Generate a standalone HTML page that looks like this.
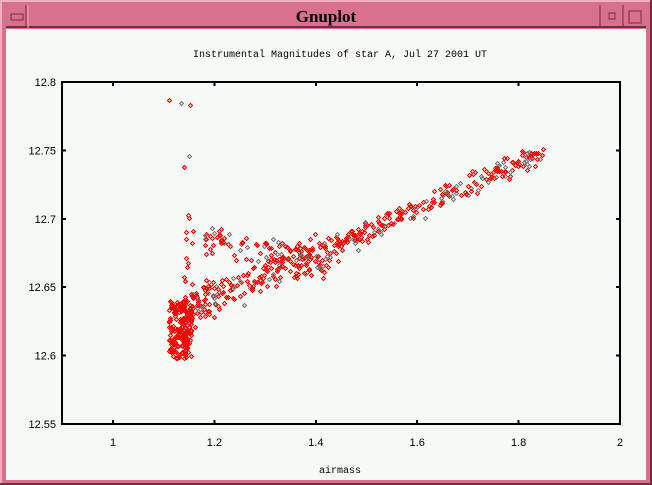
<!DOCTYPE html>
<html><head><style>
html,body{margin:0;padding:0;width:652px;height:485px;overflow:hidden;background:#d87090;}
#win{position:absolute;left:0;top:0;width:652px;height:485px;}
</style></head><body>
<svg id="win" width="652" height="485" xmlns="http://www.w3.org/2000/svg" shape-rendering="crispEdges">
<rect x="0" y="0" width="652" height="485" fill="#d8708e"/>
<rect x="0" y="0" width="652" height="2" fill="#f0b0c0"/>
<rect x="0" y="0" width="2" height="485" fill="#f0b0c0"/>
<rect x="650" y="0" width="2" height="485" fill="#703040"/>
<rect x="0" y="483" width="652" height="2" fill="#703040"/>
<rect x="6" y="6" width="640" height="22" fill="#d8708e"/>
<rect x="6" y="26" width="640" height="2" fill="#703040"/>
<line x1="28" y1="5" x2="28" y2="28" stroke="#f0b0c0" stroke-width="1"/>
<line x1="26" y1="5" x2="26" y2="28" stroke="#703040" stroke-width="1"/>
<rect x="11" y="14" width="12" height="6" fill="none" stroke="#703040"/>
<line x1="600" y1="5" x2="600" y2="28" stroke="#703040"/>
<line x1="623" y1="5" x2="623" y2="28" stroke="#703040"/>
<rect x="609" y="13" width="6" height="6" fill="none" stroke="#703040"/>
<rect x="629" y="11" width="12" height="12" fill="none" stroke="#703040"/>
<text x="326" y="22" text-anchor="middle" font-family="Liberation Serif, serif" font-weight="bold" font-size="17" fill="#000">Gnuplot</text>
<rect x="6" y="29" width="640" height="451" fill="#f5faf6"/>
<text x="340" y="57" text-anchor="middle" font-family="Liberation Mono, monospace" font-size="10" fill="#000">Instrumental Magnitudes of star A, Jul 27 2001 UT</text>
<g id="pts"></g>
<g stroke="#000" stroke-width="2" fill="none">
<rect x="62" y="82" width="558" height="342"/>
</g>
<g stroke="#000" stroke-width="2" id="ticks"></g>
<g font-family="Liberation Sans, sans-serif" font-size="11" fill="#000" id="labels"></g>
<text x="340" y="473" text-anchor="middle" font-family="Liberation Mono, monospace" font-size="10">airmass</text>
</svg>
<script>
var NS="http://www.w3.org/2000/svg";
function X(v){return 113+(v-1)*507;}
function Y(v){return 82+(12.8-v)*1368;}
var tk=document.getElementById('ticks'),lb=document.getElementById('labels');
function el(t,a,p){var e=document.createElementNS(NS,t);for(var k in a)e.setAttribute(k,a[k]);p.appendChild(e);return e;}
var xs=[1,1.2,1.4,1.6,1.8,2],xl=["1","1.2","1.4","1.6","1.8","2"];
xs.forEach(function(v,i){var x=X(v);el('line',{x1:x,y1:424,x2:x,y2:420},tk);el('line',{x1:x,y1:82,x2:x,y2:86},tk);var t=el('text',{x:x,y:446,'text-anchor':'middle'},lb);t.textContent=xl[i];});
var ys=[12.55,12.6,12.65,12.7,12.75,12.8],yl=["12.55","12.6","12.65","12.7","12.75","12.8"];
ys.forEach(function(v,i){var y=Y(v);el('line',{x1:62,y1:y,x2:66,y2:y},tk);el('line',{x1:620,y1:y,x2:616,y2:y},tk);var t=el('text',{x:56,y:y+4,'text-anchor':'end'},lb);t.textContent=yl[i];});
var s=12345;function r(){s=(s*1103515245+12345)%2147483648;return s/2147483648;}
function g(){return (r()+r()+r()-1.5)/1.5;}
var P=document.getElementById('pts');
function pt(x,y,c){var px=Math.round(X(x))+0.5,py=Math.round(Y(y))+0.5;el('path',{d:'M'+px+' '+(py-2)+'L'+(px+2)+' '+py+'L'+px+' '+(py+2)+'L'+(px-2)+' '+py+'Z',fill:'none',stroke:c,'stroke-width':1.3},P);}
var i,x,y;
for(i=0;i<190;i++){x=1.11+r()*0.045;y=12.598+r()*0.042;pt(x,y,'#f00');}
for(i=0;i<14;i++){x=1.14+r()*0.02;y=12.64+r()*0.065;pt(x,y,'#f00');}
[[1.11,12.787],[1.135,12.785],[1.152,12.783],[1.14,12.738],[1.15,12.746]].forEach(function(p,i){pt(p[0],p[1],i==1||i==4?'#777':'#f00');});
for(i=0;i<420;i++){x=1.15+Math.pow(r(),1.2)*0.70;y=12.64+(x-1.2)*0.168+g()*0.012;
 if(x<1.45)y+=(r()-0.4)*0.02;
 pt(x,y,r()<(x>1.45?0.25:0.12)?'#777':'#f00');}
for(i=0;i<110;i++){x=1.18+r()*0.25;y=12.688-(x-1.18)*0.07+g()*0.011-(r()<0.3?0.01:0);pt(x,y,r()<0.2?'#777':'#f00');}
</script>
</body></html>
